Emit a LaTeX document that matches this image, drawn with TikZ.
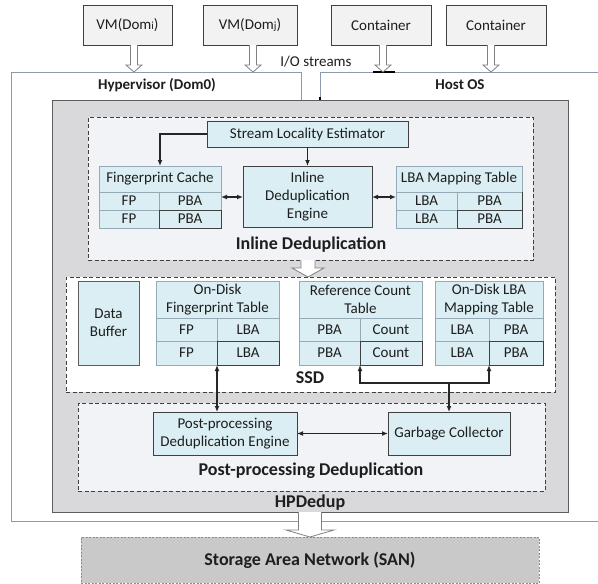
\documentclass[tikz,border=0pt]{standalone}
\usepackage{fontspec}
\setmainfont{Carlito}
\usetikzlibrary{arrows.meta,calc}
\definecolor{cellblue}{RGB}{218,238,243}
\definecolor{cellline}{RGB}{150,170,182}
\definecolor{boxline}{RGB}{64,64,64}
\definecolor{hpgray}{RGB}{217,217,219}
\definecolor{dashfill}{RGB}{242,243,246}
\definecolor{outerline}{RGB}{140,155,175}
\definecolor{topfill}{RGB}{242,242,242}
\definecolor{sanfill}{RGB}{201,201,201}
\definecolor{txt}{RGB}{30,30,30}
\newcommand\hollowarr[6]{\draw[hollow] ({#1-#4},#2) -- ({#1-#4},{#3-#6}) -- ({#1-#5},{#3-#6}) -- (#1,#3) -- ({#1+#5},{#3-#6}) -- ({#1+#4},{#3-#6}) -- ({#1+#4},#2);}
\begin{document}
\begin{tikzpicture}[x=1pt,y=-1pt,
  every node/.style={text=txt, font=\fontsize{15}{18}\selectfont, inner sep=0pt, outer sep=0pt},
  topbox/.style={draw=boxline, fill=topfill, line width=0.9pt},
  bluebox/.style={draw=boxline, fill=cellblue, line width=0.9pt, align=center},
  cell/.style={draw=cellline, fill=cellblue, line width=0.8pt, align=center},
  darkcell/.style={cell, draw=boxline},
  dashbox/.style={draw=boxline, dash pattern=on 4pt off 2.5pt, line width=0.8pt},
  biglabel/.style={font=\bfseries\fontsize{18}{20}\selectfont},
  oslabel/.style={font=\bfseries\fontsize{15}{18}\selectfont},
  outer/.style={draw=outerline, line width=0.8pt},
  hollow/.style={draw=black!50, fill=white, line width=0.8pt},
  conn/.style={draw=black!85, line width=1.2pt, -{Latex[length=6pt,width=5pt]}},
  dconn/.style={draw=black!85, line width=1.2pt, {Latex[length=6pt,width=5pt]}-{Latex[length=6pt,width=5pt]}},
]
\useasboundingbox (0,0) rectangle (598,584);
\fill[white] (0,0) rectangle (598,584);

% top boxes
\node[topbox, minimum width=89pt, minimum height=40pt] (vmi) at (127.5,25) {VM(Dom{\fontsize{11}{12}\selectfont i})};
\node[topbox, minimum width=94pt, minimum height=40pt] (vmj) at (250,25) {VM(Dom{\fontsize{11}{12}\selectfont j})};
\node[topbox, minimum width=100pt, minimum height=40pt] (c1) at (381,25) {Container};
\node[topbox, minimum width=100pt, minimum height=40pt] (c2) at (496,25) {Container};
\node (io) at (316,62) {I/O streams};

% hypervisor / host OS outlines
\draw[outer] (301,100) -- (301,72) -- (11,72) -- (11,521) -- (598,521);
\draw[outer] (320,100) -- (320,72) -- (598,72);
\draw[line width=1.5pt] (373,72) -- (395,72);
\draw[line width=1.2pt] (320,97) -- (320,100);
\node[oslabel] (hyp) at (157,85) {Hypervisor (Dom0)};
\node[oslabel] (host) at (460,85) {Host OS};

\hollowarr{134}{45}{72}{3.5}{8}{7}
\hollowarr{253}{45}{72}{3.5}{8}{7}
\hollowarr{383}{45}{72}{3.5}{8}{7}
\hollowarr{491}{45}{72}{3.5}{8}{7}

% HPDedup gray box
\node[draw=boxline!85, fill=hpgray, line width=0.9pt, minimum width=516pt, minimum height=412pt] (hp) at (310,306) {};

% dashed groups
\node[dashbox, fill=dashfill, minimum width=445pt, minimum height=143pt] (inl) at (310.5,188.5) {};
\node[dashbox, fill=white, minimum width=489pt, minimum height=115pt] (ssd) at (310.5,334.5) {};
\node[dashbox, fill=dashfill, minimum width=467pt, minimum height=88pt] (pp) at (311.5,447) {};

% inline dedup contents
\node[bluebox, minimum width=201pt, minimum height=26pt] (sle) at (307.5,134) {Stream Locality Estimator};
\node[cell, minimum width=122pt, minimum height=26pt] (fc-h) at (160,179) {Fingerprint Cache};
\node[cell, minimum width=60pt, minimum height=18pt] (fc-a1) at (129,201) {FP};
\node[cell, minimum width=62pt, minimum height=18pt] (fc-a2) at (190,201) {PBA};
\node[cell, minimum width=60pt, minimum height=18pt] (fc-b1) at (129,219) {FP};
\node[darkcell, minimum width=62pt, minimum height=18pt] (fc-b2) at (190,219) {PBA};
\node[bluebox, minimum width=129pt, minimum height=61pt] (eng) at (307.5,196.5) {Inline\\Deduplication\\Engine};
\node[cell, minimum width=126pt, minimum height=26pt] (lba-h) at (459,179) {LBA Mapping Table};
\node[cell, minimum width=61pt, minimum height=18pt] (lba-a1) at (426.5,201) {LBA};
\node[cell, minimum width=65pt, minimum height=18pt] (lba-a2) at (489.5,201) {PBA};
\node[cell, minimum width=61pt, minimum height=18pt] (lba-b1) at (426.5,219) {LBA};
\node[darkcell, minimum width=65pt, minimum height=18pt] (lba-b2) at (489.5,219) {PBA};
\draw[boxline, line width=0.9pt] (lba-a2.north east) -- (lba-b2.south east);
\node[biglabel] (inl-l) at (311,245) {Inline Deduplication};

\coordinate (p1) at ([yshift=4pt]fc-a2.east);
\draw[dconn] (p1) -- (p1 -| eng.west);
\draw[dconn] (p1 -| eng.east) -- (p1 -| lba-a1.west);
\draw[conn] (sle.west) -| (fc-h.north);
\draw[conn] (sle.south) -- (eng.north);

% SSD contents
\node[bluebox, draw=boxline!85, minimum width=61pt, minimum height=84pt] (db) at (108.5,323) {Data\\Buffer};
\node[cell, minimum width=123pt, minimum height=37pt] (fpt-h) at (217.5,299.5) {On-Disk\\Fingerprint Table};
\node[cell, minimum width=61pt, minimum height=23pt] (fpt-a1) at (186.5,329.5) {FP};
\node[cell, minimum width=62pt, minimum height=23pt] (fpt-a2) at (248,329.5) {LBA};
\node[cell, minimum width=61pt, minimum height=24pt] (fpt-b1) at (186.5,353) {FP};
\node[darkcell, minimum width=62pt, minimum height=24pt] (fpt-b2) at (248,353) {LBA};
\node[cell, minimum width=123pt, minimum height=37pt] (rc-h) at (360.5,299.5) {Reference Count\\Table};
\node[cell, minimum width=61pt, minimum height=23pt] (rc-a1) at (329.5,329.5) {PBA};
\node[cell, minimum width=62pt, minimum height=23pt] (rc-a2) at (391,329.5) {Count};
\node[cell, minimum width=61pt, minimum height=24pt] (rc-b1) at (329.5,353) {PBA};
\node[darkcell, minimum width=62pt, minimum height=24pt] (rc-b2) at (391,353) {Count};
\node[cell, minimum width=108pt, minimum height=37pt] (lbad-h) at (489,299.5) {On-Disk LBA\\Mapping Table};
\node[cell, minimum width=54pt, minimum height=23pt] (lbad-a1) at (462,329.5) {LBA};
\node[cell, minimum width=54pt, minimum height=23pt] (lbad-a2) at (516,329.5) {PBA};
\node[cell, minimum width=54pt, minimum height=24pt] (lbad-b1) at (462,353) {LBA};
\node[darkcell, minimum width=54pt, minimum height=24pt] (lbad-b2) at (516,353) {PBA};
\node[biglabel] (ssd-l) at (310,378) {SSD};

% post-processing contents
\node[bluebox, minimum width=144pt, minimum height=43pt] (ppe) at (225,433.5) {Post-processing\\Deduplication Engine};
\node[bluebox, minimum width=122pt, minimum height=43pt] (gc) at (449,433.5) {Garbage Collector};
\node[biglabel] (pp-l) at (311,471) {Post-processing Deduplication};
\node[biglabel] (hp-l) at (310,503) {HPDedup};

\draw[dconn] (fpt-b1.south east) -- (ppe.north -| fpt-b1.south east);
\coordinate (j) at (449,383);
\draw[conn] (j) -| (rc-b1.south east);
\draw[conn] (j) -| (lbad-b1.south east);
\draw[conn] (j) -- (gc.north);
\draw[dconn] (ppe.east) -- (gc.west);

% hollow arrows between layers
\hollowarr{308}{260}{277}{7}{16}{9}
\hollowarr{310}{512}{537}{11.5}{24}{7}

% SAN
\node[draw=black!45, dash pattern=on 2pt off 1.5pt, line width=0.6pt, fill=sanfill, minimum width=458pt, minimum height=46pt, font=\bfseries\fontsize{18}{20}\selectfont] (san) at (310,560) {Storage Area Network (SAN)};
\end{tikzpicture}
\end{document}
